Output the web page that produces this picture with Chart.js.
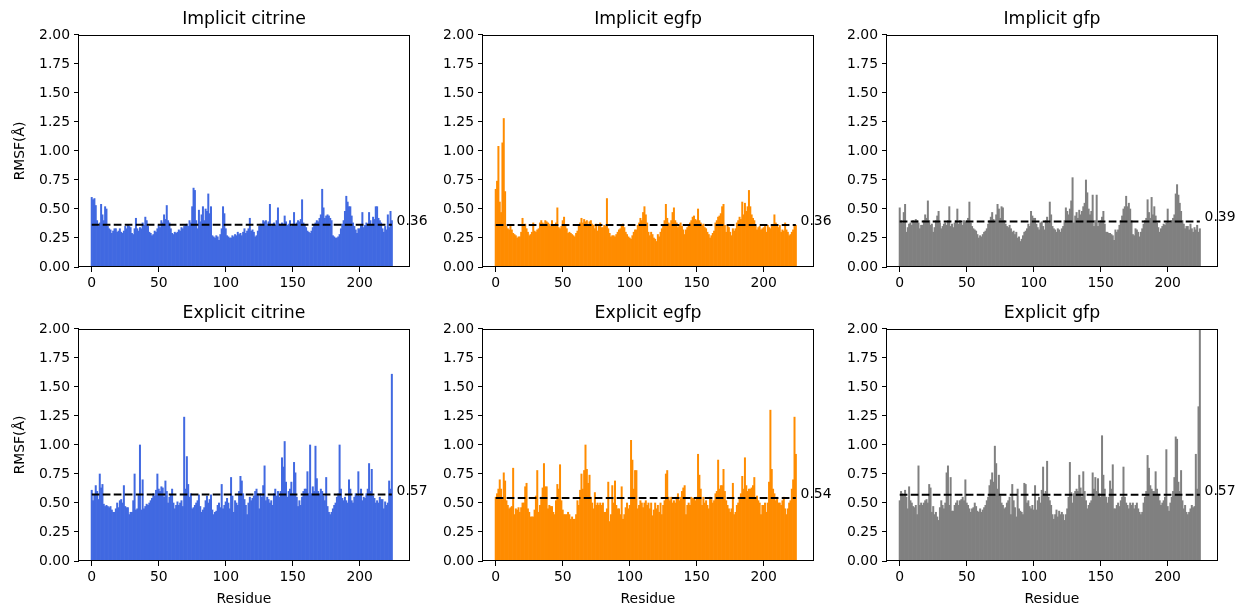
<!DOCTYPE html>
<html>
<head>
<meta charset="utf-8">
<script src="https://cdn.jsdelivr.net/npm/chart.js@4.4.1/dist/chart.umd.min.js"></script>
<style>
    html, body { margin: 0; padding: 0; background: #fff; width: 1236px; height: 604px; overflow: hidden; }
    canvas { position: absolute; }
</style>
</head>
<body>
<script>
// RMSF per residue
const implicitCitrine = [
    0.60, 0.58, 0.59, 0.53, 0.40, 0.35, 0.38, 0.54, 0.45, 0.40,
    0.52, 0.50, 0.35, 0.33, 0.32, 0.29, 0.31, 0.33, 0.33, 0.30,
    0.31, 0.33, 0.30, 0.29, 0.31, 0.35, 0.33, 0.36, 0.35, 0.34,
    0.29, 0.28, 0.33, 0.42, 0.33, 0.31, 0.34, 0.33, 0.38, 0.36,
    0.43, 0.40, 0.35, 0.30, 0.29, 0.27, 0.28, 0.31, 0.30, 0.33,
    0.36, 0.34, 0.40, 0.38, 0.45, 0.41, 0.53, 0.40, 0.38, 0.33,
    0.29, 0.28, 0.30, 0.29, 0.30, 0.32, 0.31, 0.34, 0.33, 0.35,
    0.36, 0.37, 0.35, 0.40, 0.38, 0.52, 0.68, 0.66, 0.40, 0.33,
    0.49, 0.39, 0.45, 0.52, 0.40, 0.50, 0.48, 0.63, 0.46, 0.52,
    0.27, 0.26, 0.25, 0.27, 0.26, 0.23, 0.28, 0.33, 0.52, 0.46,
    0.33, 0.27, 0.26, 0.25, 0.25, 0.27, 0.26, 0.28, 0.27, 0.30,
    0.28, 0.29, 0.27, 0.30, 0.33, 0.29, 0.31, 0.33, 0.42, 0.31,
    0.32, 0.30, 0.26, 0.27, 0.31, 0.35, 0.37, 0.36, 0.40, 0.39,
    0.40, 0.37, 0.39, 0.54, 0.35, 0.37, 0.38, 0.36, 0.40, 0.51,
    0.37, 0.36, 0.38, 0.37, 0.44, 0.39, 0.36, 0.37, 0.40, 0.35,
    0.37, 0.47, 0.36, 0.38, 0.40, 0.39, 0.41, 0.58, 0.38, 0.36,
    0.34, 0.31, 0.30, 0.29, 0.31, 0.34, 0.36, 0.38, 0.40, 0.39,
    0.42, 0.45, 0.67, 0.51, 0.42, 0.44, 0.45, 0.44, 0.42, 0.40,
    0.27, 0.26, 0.25, 0.25, 0.26, 0.28, 0.33, 0.37, 0.40, 0.48,
    0.61, 0.56, 0.52, 0.52, 0.44, 0.38, 0.35, 0.32, 0.29, 0.33,
    0.33, 0.36, 0.47, 0.34, 0.36, 0.38, 0.37, 0.47, 0.40, 0.36,
    0.43, 0.41, 0.52, 0.52, 0.42, 0.40, 0.38, 0.33, 0.30, 0.35,
    0.32, 0.45, 0.34, 0.48, 0.40
];

const implicitEgfp = [
    0.67, 0.74, 1.04, 0.56, 0.47, 1.07, 1.28, 0.65, 0.35, 0.33,
    0.32, 0.35, 0.32, 0.29, 0.28, 0.27, 0.25, 0.26, 0.26, 0.30,
    0.42, 0.35, 0.37, 0.33, 0.30, 0.27, 0.28, 0.30, 0.38, 0.31,
    0.30, 0.32, 0.33, 0.38, 0.40, 0.38, 0.37, 0.40, 0.39, 0.38,
    0.37, 0.35, 0.40, 0.36, 0.35, 0.38, 0.51, 0.34, 0.33, 0.35,
    0.40, 0.43, 0.35, 0.33, 0.29, 0.30, 0.29, 0.28, 0.27, 0.26,
    0.29, 0.31, 0.35, 0.38, 0.42, 0.38, 0.41, 0.39, 0.40, 0.36,
    0.39, 0.40, 0.37, 0.36, 0.33, 0.37, 0.31, 0.35, 0.38, 0.34,
    0.34, 0.36, 0.35, 0.59, 0.33, 0.29, 0.26, 0.27, 0.27, 0.26,
    0.28, 0.30, 0.32, 0.33, 0.36, 0.37, 0.34, 0.30, 0.28, 0.26,
    0.25, 0.24, 0.27, 0.30, 0.32, 0.32, 0.36, 0.38, 0.42, 0.40,
    0.47, 0.52, 0.45, 0.38, 0.30, 0.27, 0.30, 0.28, 0.25, 0.24,
    0.22, 0.28, 0.26, 0.30, 0.33, 0.36, 0.40, 0.54, 0.42, 0.38,
    0.37, 0.40, 0.47, 0.51, 0.40, 0.38, 0.34, 0.36, 0.38, 0.35,
    0.32, 0.28, 0.32, 0.34, 0.36, 0.38, 0.40, 0.43, 0.44, 0.41,
    0.40, 0.50, 0.40, 0.38, 0.36, 0.37, 0.34, 0.33, 0.30, 0.28,
    0.25, 0.27, 0.29, 0.31, 0.38, 0.40, 0.43, 0.44, 0.46, 0.52,
    0.54, 0.36, 0.30, 0.36, 0.34, 0.30, 0.27, 0.33, 0.31, 0.33,
    0.38, 0.40, 0.43, 0.41, 0.56, 0.45, 0.55, 0.48, 0.52, 0.66,
    0.52, 0.45, 0.42, 0.40, 0.35, 0.32, 0.34, 0.35, 0.32, 0.33,
    0.34, 0.35, 0.30, 0.36, 0.34, 0.33, 0.35, 0.36, 0.45, 0.38,
    0.35, 0.34, 0.36, 0.30, 0.32, 0.31, 0.38, 0.32, 0.30, 0.27,
    0.28, 0.30, 0.32, 0.35, 0.36
];

const implicitGfp = [
    0.51, 0.40, 0.38, 0.47, 0.54, 0.30, 0.34, 0.37, 0.38, 0.36,
    0.40, 0.39, 0.41, 0.40, 0.38, 0.33, 0.36, 0.36, 0.40, 0.45,
    0.42, 0.57, 0.40, 0.36, 0.37, 0.30, 0.34, 0.40, 0.44, 0.48,
    0.38, 0.33, 0.35, 0.37, 0.38, 0.36, 0.40, 0.52, 0.35, 0.37,
    0.34, 0.38, 0.40, 0.50, 0.37, 0.40, 0.38, 0.36, 0.40, 0.39,
    0.40, 0.42, 0.56, 0.38, 0.35, 0.33, 0.32, 0.31, 0.28, 0.25,
    0.27, 0.26, 0.28, 0.30, 0.31, 0.33, 0.37, 0.40, 0.43, 0.47,
    0.41, 0.38, 0.45, 0.54, 0.50, 0.42, 0.52, 0.51, 0.40, 0.37,
    0.35, 0.34, 0.36, 0.33, 0.30, 0.31, 0.28, 0.30, 0.25, 0.26,
    0.22, 0.24, 0.27, 0.30, 0.31, 0.33, 0.37, 0.35, 0.48, 0.44,
    0.42, 0.42, 0.37, 0.34, 0.32, 0.38, 0.39, 0.35, 0.32, 0.40,
    0.43, 0.38, 0.56, 0.45, 0.35, 0.33, 0.32, 0.30, 0.33, 0.32,
    0.30, 0.33, 0.35, 0.40, 0.51, 0.48, 0.45, 0.50, 0.57, 0.77,
    0.38, 0.44, 0.47, 0.42, 0.49, 0.45, 0.48, 0.52, 0.55, 0.75,
    0.64, 0.50, 0.45, 0.48, 0.62, 0.35, 0.40, 0.62, 0.35, 0.38,
    0.40, 0.43, 0.48, 0.37, 0.30, 0.30, 0.29, 0.29, 0.28, 0.27,
    0.23, 0.32, 0.30, 0.32, 0.36, 0.40, 0.44, 0.50, 0.52, 0.61,
    0.52, 0.55, 0.50, 0.40, 0.28, 0.27, 0.33, 0.32, 0.30, 0.26,
    0.30, 0.33, 0.37, 0.40, 0.42, 0.58, 0.47, 0.42, 0.60, 0.45,
    0.52, 0.44, 0.38, 0.34, 0.30, 0.33, 0.35, 0.37, 0.36, 0.38,
    0.50, 0.38, 0.38, 0.40, 0.42, 0.45, 0.63, 0.71, 0.62, 0.55,
    0.48, 0.40, 0.37, 0.33, 0.35, 0.35, 0.32, 0.37, 0.33, 0.30,
    0.34, 0.32, 0.36, 0.30, 0.33
];

const explicitCitrine = [
    0.61, 0.52, 0.57, 0.65, 0.60, 0.53, 0.75, 0.63, 0.66, 0.49,
    0.47, 0.48, 0.47, 0.46, 0.47, 0.44, 0.42, 0.42, 0.45, 0.50,
    0.46, 0.52, 0.53, 0.50, 0.65, 0.47, 0.46, 0.46, 0.40, 0.42,
    0.42, 0.52, 0.75, 0.44, 0.45, 0.57, 1.00, 0.44, 0.70, 0.45,
    0.47, 0.49, 0.48, 0.50, 0.52, 0.54, 0.58, 0.56, 0.61, 0.75,
    0.62, 0.60, 0.64, 0.63, 0.55, 0.69, 0.60, 0.50, 0.55, 0.57,
    0.62, 0.50, 0.45, 0.48, 0.51, 0.48, 0.50, 0.52, 0.47, 1.24,
    0.62, 0.90, 0.66, 0.55, 0.58, 0.45, 0.46, 0.48, 0.50, 0.52,
    0.57, 0.47, 0.42, 0.44, 0.46, 0.52, 0.56, 0.50, 0.53, 0.57,
    0.44, 0.40, 0.42, 0.43, 0.48, 0.50, 0.46, 0.66, 0.45, 0.48,
    0.51, 0.54, 0.50, 0.45, 0.72, 0.56, 0.42, 0.52, 0.50, 0.48,
    0.60, 0.73, 0.69, 0.58, 0.53, 0.48, 0.40, 0.50, 0.55, 0.52,
    0.54, 0.56, 0.60, 0.62, 0.58, 0.45, 0.58, 0.55, 0.65, 0.82,
    0.52, 0.55, 0.53, 0.50, 0.52, 0.48, 0.58, 0.62, 0.56, 0.60,
    0.55, 0.60, 0.89, 0.81, 1.03, 0.68, 0.55, 0.60, 0.62, 0.68,
    0.58, 0.85, 0.76, 0.55, 0.47, 0.52, 0.48, 0.55, 0.60, 0.62,
    0.62, 0.77, 0.58, 1.00, 0.58, 0.64, 0.60, 0.99, 0.71, 0.60,
    0.58, 0.62, 0.60, 0.56, 0.52, 0.72, 0.47, 0.42, 0.40, 0.42,
    0.45, 0.48, 0.50, 0.55, 0.58, 1.00, 0.62, 0.54, 0.52, 0.55,
    0.52, 0.50, 0.70, 0.62, 0.52, 0.50, 0.55, 0.58, 0.56, 0.77,
    0.56, 0.62, 0.52, 0.55, 0.54, 0.58, 0.62, 0.84, 0.60, 0.79,
    0.56, 0.54, 0.50, 0.52, 0.50, 0.55, 0.53, 0.53, 0.45, 0.51,
    0.48, 0.50, 0.69, 0.62, 1.61
];

const explicitEgfp = [
    0.55, 0.58, 0.62, 0.70, 0.62, 0.53, 0.76, 0.69, 0.52, 0.48,
    0.45, 0.46, 0.47, 0.80, 0.40, 0.45, 0.44, 0.46, 0.42, 0.46,
    0.50, 0.50, 0.64, 0.67, 0.45, 0.42, 0.38, 0.38, 0.38, 0.44,
    0.56, 0.78, 0.42, 0.48, 0.55, 0.63, 0.84, 0.64, 0.64, 0.45,
    0.48, 0.47, 0.47, 0.42, 0.40, 0.52, 0.66, 0.62, 0.83, 0.52,
    0.44, 0.40, 0.40, 0.40, 0.42, 0.40, 0.36, 0.38, 0.36, 0.36,
    0.40, 0.52, 0.48, 0.61, 0.75, 0.62, 0.78, 1.00, 0.79, 0.67,
    0.74, 0.55, 0.50, 0.45, 0.59, 0.48, 0.50, 0.48, 0.50, 0.48,
    0.50, 0.42, 0.42, 0.45, 0.68, 0.34, 0.40, 0.65, 0.50, 0.69,
    0.48, 0.45, 0.45, 0.40, 0.64, 0.36, 0.40, 0.46, 0.50, 0.45,
    0.48, 1.04, 0.87, 0.62, 0.78, 0.78, 0.45, 0.48, 0.52, 0.50,
    0.46, 0.50, 0.52, 0.48, 0.50, 0.45, 0.50, 0.39, 0.44, 0.50,
    0.45, 0.48, 0.42, 0.50, 0.40, 0.48, 0.52, 0.75, 0.78, 0.55,
    0.52, 0.55, 0.50, 0.52, 0.50, 0.55, 0.58, 0.52, 0.55, 0.60,
    0.63, 0.65, 0.40, 0.48, 0.50, 0.48, 0.55, 0.54, 0.54, 0.52,
    0.55, 0.92, 0.74, 0.62, 0.48, 0.55, 0.50, 0.52, 0.48, 0.45,
    0.55, 0.53, 0.50, 0.52, 0.58, 0.60, 0.87, 0.62, 0.65, 0.65,
    0.79, 0.60, 0.52, 0.48, 0.45, 0.42, 0.45, 0.67, 0.40, 0.42,
    0.48, 0.50, 0.55, 0.58, 0.73, 0.62, 0.89, 0.65, 0.60, 0.62,
    0.62, 0.63, 0.65, 0.72, 0.54, 0.56, 0.52, 0.50, 0.40, 0.48,
    0.48, 0.50, 0.42, 0.50, 0.68, 1.30, 0.79, 0.62, 0.58, 0.52,
    0.55, 0.50, 0.50, 0.48, 0.52, 0.55, 0.45, 0.40, 0.45, 0.50,
    0.52, 0.62, 0.70, 1.24, 0.92
];

const explicitGfp = [
    0.52, 0.60, 0.58, 0.56, 0.61, 0.55, 0.45, 0.64, 0.52, 0.50,
    0.47, 0.46, 0.48, 0.40, 0.82, 0.48, 0.50, 0.48, 0.50, 0.52,
    0.53, 0.50, 0.66, 0.63, 0.42, 0.47, 0.40, 0.42, 0.38, 0.35,
    0.46, 0.52, 0.48, 0.45, 0.50, 0.76, 0.82, 0.48, 0.72, 0.43,
    0.43, 0.48, 0.50, 0.52, 0.48, 0.52, 0.53, 0.55, 0.52, 0.70,
    0.50, 0.48, 0.45, 0.42, 0.45, 0.46, 0.50, 0.47, 0.43, 0.42,
    0.45, 0.42, 0.44, 0.46, 0.48, 0.52, 0.55, 0.65, 0.70, 0.76,
    0.68, 0.99, 0.84, 0.62, 0.74, 0.56, 0.50, 0.48, 0.45, 0.46,
    0.50, 0.52, 0.55, 0.40, 0.66, 0.52, 0.46, 0.38, 0.62, 0.45,
    0.43, 0.42, 0.40, 0.67, 0.66, 0.50, 0.52, 0.47, 0.45, 0.48,
    0.44, 0.65, 0.44, 0.52, 0.55, 0.50, 0.61, 0.81, 0.58, 0.60,
    0.86, 0.55, 0.52, 0.48, 0.40, 0.36, 0.40, 0.44, 0.38, 0.43,
    0.40, 0.42, 0.40, 0.35, 0.40, 0.45, 0.55, 0.85, 0.59, 0.50,
    0.58, 0.60, 0.62, 0.60, 0.74, 0.63, 0.55, 0.77, 0.60, 0.52,
    0.45, 0.48, 0.50, 0.52, 0.76, 0.62, 0.72, 0.60, 0.71, 0.58,
    0.55, 1.08, 0.74, 0.62, 0.55, 0.50, 0.55, 0.69, 0.62, 0.83,
    0.45, 0.45, 0.48, 0.50, 0.47, 0.52, 0.55, 0.81, 0.55, 0.50,
    0.48, 0.45, 0.50, 0.48, 0.50, 0.45, 0.48, 0.50, 0.45, 0.42,
    0.40, 0.42, 0.50, 0.55, 0.60, 0.91, 0.80, 0.65, 0.62, 0.60,
    0.60, 0.77, 0.62, 0.57, 0.52, 0.48, 0.50, 0.52, 0.55, 0.96,
    0.47, 0.43, 0.50, 0.55, 0.60, 0.72, 1.07, 1.05, 0.68, 0.60,
    0.78, 0.52, 0.45, 0.48, 0.42, 0.40, 0.42, 0.45, 0.48, 0.46,
    0.47, 0.92, 0.62, 1.33, 2.20
];

const panelTitles = ['Implicit citrine', 'Implicit egfp', 'Implicit gfp',
                     'Explicit citrine', 'Explicit egfp', 'Explicit gfp'];
const means = [0.364, 0.362, 0.393, 0.573, 0.544, 0.572];
const xTicks = [0, 50, 100, 150, 200];
const yTicks = [0, 0.25, 0.5, 0.75, 1, 1.25, 1.5, 1.75, 2];

// layout (pixels) - kept apart from the data
const FONT = "'DejaVu Sans', sans-serif";
const plotLeft = [79, 483, 887];
const plotTop = [35, 329];
const plotW = 330, plotH = 232;
const padL = 79, padR = 50, padT = 35, canvasH = 320;
const xMin = -9.5, xMax = 236.8, labelX = 227.5;
const colours = ['#4169E1', '#FF8C00', '#808080'];

// frame round the plot area + the mean value text
const meanLabel = {
    id: 'meanLabel',
    afterDraw(chart, args, opts) {
        const { ctx, chartArea, scales } = chart;
        ctx.save();
        ctx.strokeStyle = '#000';
        ctx.lineWidth = 1;
        ctx.strokeRect(Math.round(chartArea.left) - 0.5, Math.round(chartArea.top) + 0.5,
                       Math.round(chartArea.width) + 1, Math.round(chartArea.height) - 1);
        ctx.fillStyle = '#000';
        ctx.font = '13.9px ' + FONT;
        ctx.textBaseline = 'alphabetic';
        ctx.textAlign = 'left';
        ctx.fillText(opts.value.toFixed(2), scales.x.getPixelForValue(labelX), scales.y.getPixelForValue(opts.value));
        ctx.restore();
    }
};

const series = [implicitCitrine, implicitEgfp, implicitGfp, explicitCitrine, explicitEgfp, explicitGfp];

series.forEach((values, i) => {
    const row = Math.floor(i / 3), col = i % 3;
    const canvas = document.createElement('canvas');
    canvas.width = padL + plotW + padR;
    canvas.height = canvasH;
    canvas.style.left = (plotLeft[col] - padL) + 'px';
    canvas.style.top = (plotTop[row] - padT) + 'px';
    document.body.appendChild(canvas);

    new Chart(canvas, {
        type: 'bar',
        data: {
            datasets: [{
                type: 'line',
                data: [{ x: 0, y: means[i] }, { x: values.length - 1, y: means[i] }],
                borderColor: '#000',
                borderWidth: 2,
                borderDash: [7.7, 3.3],
                pointRadius: 0,
                fill: false,
                order: 0
            }, {
                data: values.map((v, r) => ({ x: r, y: v })),
                backgroundColor: colours[col],
                borderWidth: 0,
                barPercentage: 1.0,
                categoryPercentage: 1.0,
                order: 1
            }]
        },
        options: {
            responsive: false,
            animation: false,
            devicePixelRatio: 1,
            layout: { padding: { left: 0, right: padR, top: 0, bottom: 0 } },
            plugins: {
                legend: { display: false },
                tooltip: { enabled: false },
                title: {
                    display: true,
                    fullSize: false,
                    text: panelTitles[i],
                    color: '#000',
                    font: { family: FONT, size: 17.3, weight: 'normal' },
                    padding: { top: 9.5, bottom: 4.7 }
                },
                meanLabel: { value: means[i] }
            },
            scales: {
                x: {
                    type: 'linear',
                    min: xMin,
                    max: xMax,
                    offset: false,
                    afterBuildTicks: s => { s.ticks = xTicks.map(v => ({ value: v })); },
                    afterFit: s => { s.height = canvasH - padT - plotH; },
                    grid: { drawOnChartArea: false, drawTicks: true, tickLength: 5, tickColor: '#000', offset: false },
                    border: { display: false },
                    ticks: { color: '#000', font: { family: FONT, size: 13.9 }, padding: 3, maxRotation: 0, autoSkip: false,
                             callback: v => String(v) },
                    title: { display: row === 1, text: 'Residue', color: '#000',
                             font: { family: FONT, size: 13.9 }, padding: { top: 0, bottom: 6 } }
                },
                y: {
                    min: 0,
                    max: 2,
                    afterBuildTicks: s => { s.ticks = yTicks.map(v => ({ value: v })); },
                    afterFit: s => { s.width = padL; },
                    grid: { drawOnChartArea: false, drawTicks: true, tickLength: 5, tickColor: '#000' },
                    border: { display: false },
                    ticks: { color: '#000', font: { family: FONT, size: 13.9 }, padding: 4,
                             callback: v => v.toFixed(2) },
                    title: { display: col === 0, text: 'RMSF(Å)', color: '#000',
                             font: { family: FONT, size: 13.9 }, padding: { top: 12, bottom: 0 } }
                }
            }
        },
        plugins: [meanLabel]
    });
});
</script>
</body>
</html>
